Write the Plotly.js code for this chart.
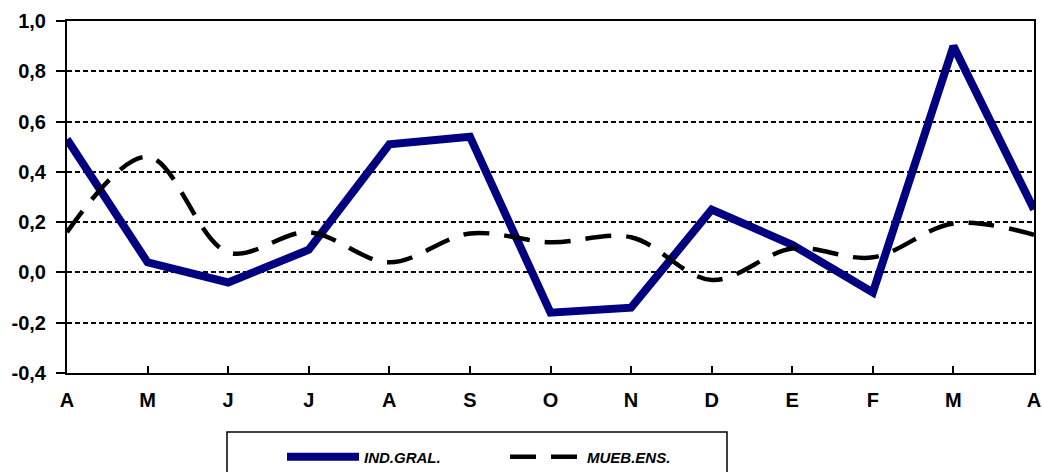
<!DOCTYPE html>
<html>
<head>
<meta charset="utf-8">
<script src="https://cdn.plot.ly/plotly-3.0.1.min.js"></script>
<style>html,body{margin:0;padding:0;background:#fff;}#chart{width:1043px;height:472px;}</style>
</head>
<body>
<div id="chart"></div>
<script>
const months = ['A','M','J','J','A','S','O','N','D','E','F','M','A'];
const indGral = [0.53, 0.04, -0.04, 0.09, 0.51, 0.54, -0.16, -0.14, 0.25, 0.11, -0.08, 0.90, 0.25];
const muebEns = [0.16, 0.46, 0.08, 0.16, 0.04, 0.155, 0.12, 0.14, -0.03, 0.095, 0.06, 0.195, 0.15];
const yTickVals = [-0.4, -0.2, 0.0, 0.2, 0.4, 0.6, 0.8, 1.0];
const yTickText = ['-0,4', '-0,2', '0,0', '0,2', '0,4', '0,6', '0,8', '1,0'];

const idx = months.map((m, i) => i);

const traces = [
  {
    x: idx, y: indGral, name: 'IND.GRAL.', type: 'scatter', mode: 'lines',
    line: {color: '#000080', width: 8}, hoverinfo: 'skip'
  },
  {
    x: idx, y: muebEns, name: 'MUEB.ENS.', type: 'scatter', mode: 'lines',
    line: {color: '#000000', width: 4.5, dash: '26px,15px', shape: 'spline', smoothing: 1}, hoverinfo: 'skip'
  }
];

const tickFont = {family: 'Liberation Sans, Arial, sans-serif', size: 20, color: '#000', weight: 700};

const layout = {
  width: 1043, height: 472,
  margin: {l: 67, r: 9, t: 21, b: 99, autoexpand: false},
  paper_bgcolor: '#fff', plot_bgcolor: '#fff',
  showlegend: true,
  legend: {
    orientation: 'h', xref: 'container', yref: 'container',
    x: 282 / 1043, xanchor: 'left', y: 1 - 457 / 472, yanchor: 'middle',
    font: {family: 'Liberation Sans, Arial, sans-serif', size: 15, color: '#000', weight: 700, style: 'italic'},
    itemwidth: 72, entrywidth: 136, entrywidthmode: 'pixels',
    bgcolor: 'rgba(0,0,0,0)', borderwidth: 0
  },
  xaxis: {
    range: [0, 12], tickmode: 'array', tickvals: idx, ticktext: months,
    showgrid: false, zeroline: false,
    showline: true, linecolor: '#000', linewidth: 2, mirror: true,
    ticks: 'inside', ticklen: 7, tickwidth: 2, tickcolor: '#000',
    tickfont: tickFont, ticklabelstandoff: 8, fixedrange: true, automargin: false
  },
  xaxis2: {
    overlaying: 'x', anchor: 'y', side: 'bottom',
    range: [0, 12], tickmode: 'array', tickvals: idx,
    showticklabels: false, showgrid: false, zeroline: false, showline: false,
    ticks: 'outside', ticklen: 5, tickwidth: 2, tickcolor: '#000', automargin: false
  },
  yaxis: {
    range: [-0.4, 1.0], tickmode: 'array', tickvals: yTickVals, ticktext: yTickText,
    showgrid: true, gridcolor: '#000', gridwidth: 2, griddash: '5px,3px',
    zeroline: false,
    showline: true, linecolor: '#000', linewidth: 2, mirror: true,
    ticks: 'outside', ticklen: 9, tickwidth: 2, tickcolor: '#000',
    tickfont: tickFont, ticklabelstandoff: 6, fixedrange: true, automargin: false
  },
  shapes: [
    {type: 'rect', xref: 'paper', yref: 'paper',
     x0: (227 - 67) / 967, x1: (727 - 67) / 967,
     y0: -(432 - 373) / 352, y1: -(480 - 373) / 352,
     line: {color: '#000', width: 1.5}, fillcolor: 'rgba(0,0,0,0)'}
  ]
};

Plotly.newPlot('chart', traces, layout, {staticPlot: true, displayModeBar: false});
</script>
</body>
</html>
